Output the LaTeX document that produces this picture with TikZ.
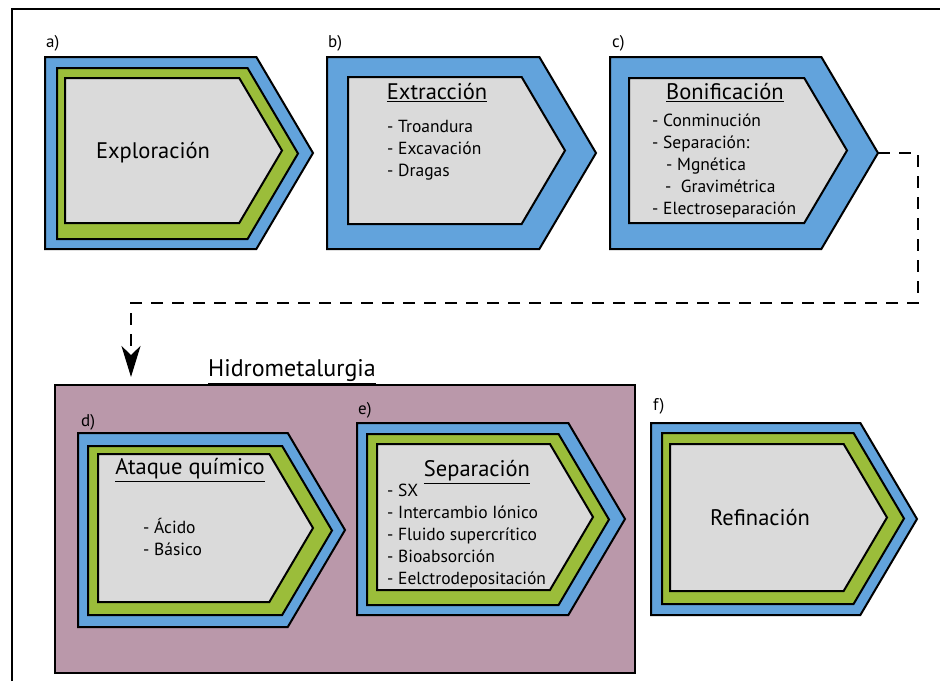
\documentclass[tikz,border=0pt]{standalone}
\usepackage{fontspec}
\setmainfont{PT Sans}
\usepackage{tikz}
\tikzset{>=latex}
\usetikzlibrary{shapes,arrows,arrows.meta}
\usetikzlibrary{calc}
\definecolor{capablue}{RGB}{98,163,220}
\definecolor{capagreen}{RGB}{155,189,58}
\definecolor{capagray}{RGB}{218,218,218}
\definecolor{hidromauve}{RGB}{186,152,170}
\tikzset{
	bluelayer/.style={fill=capablue,draw=black,line width=2pt},
	greenlayer/.style={fill=capagreen,draw=black,line width=2pt},
	graylayer/.style={fill=capagray,draw=black,line width=2pt},
	title/.style={font=\fontsize{22.5}{26}\selectfont,inner sep=0pt},
	itemlist/.style={font=\fontsize{17.5}{22}\selectfont,align=left,anchor=west,inner sep=0pt},
	tag/.style={font=\fontsize{17}{19}\selectfont,anchor=west,inner sep=0pt}
}
% style, left, top, bottom, tip
\newcommand{\chevron}[5]{%
	\draw[#1] (#2,#3) -- ({#5-0.59*(#4-#3)/2},#3) -- (#5,{(#3+#4)/2})
	-- ({#5-0.59*(#4-#3)/2},#4) -- (#2,#4) -- cycle;}

\begin{document}
\begin{tikzpicture}[line cap=butt,line join=miter,x=1pt,y=-1pt]
	\useasboundingbox (0,0) rectangle (940,681);
	\draw[line width=2pt] (12,681) |- (940,9);
	% top row
	\chevron{bluelayer}{45}{57}{249}{313}
	\chevron{greenlayer}{57}{68}{239}{298}
	\chevron{graylayer}{65}{78}{223}{282}
	\chevron{bluelayer}{327}{57}{249}{596}
	\chevron{graylayer}{348}{77}{224}{565}
	\chevron{bluelayer}{610}{57}{249}{878}
	\chevron{graylayer}{629}{78}{223}{847}
	\node[tag] (taga) at (46,43) {a)};
	\node[tag] (tagb) at (328,43) {b)};
	\node[tag] (tagc) at (612,43) {c)};
	\node[title] (explor) at (153,153) {Exploración};
	\node[title] (extrac) at (437,93) {\underline{Extracción}};
	\node[itemlist] (extraclist) at (387,150) {- Troandura\\- Excavación\\- Dragas};
	\node[title] (bonif) at (725,93) {\underline{Bonificación}};
	\node[itemlist] (boniflist) at (652,165.5) {- Conminución\\- Separación:\\\hspace*{14pt}- Mgnética\\\hspace*{13pt}-\ \ Gravimétrica\\- Electroseparación};
	% hidrometalurgia
	\draw[fill=hidromauve,line width=2pt] (55,385) rectangle (635,673);
	\node[title,font=\fontsize{24}{28}\selectfont] (hidro) at (292,372) {\underline{Hidrometalurgia}};
	\chevron{bluelayer}{78}{433}{627}{345}
	\chevron{greenlayer}{88}{446}{615}{332}
	\chevron{graylayer}{98}{454}{602}{313}
	\chevron{bluelayer}{357}{423}{615}{625}
	\chevron{greenlayer}{367}{434}{605}{609}
	\chevron{graylayer}{377}{444}{590}{593}
	\chevron{bluelayer}{651}{423}{615}{917}
	\chevron{greenlayer}{662}{433}{604}{904}
	\chevron{graylayer}{670}{444}{591}{887}
	\node[tag] (tagd) at (81,422) {d)};
	\node[tag] (tage) at (358,410) {e)};
	\node[tag] (tagf) at (653,406) {f)};
	\node[title] (ataque) at (190,470) {\underline{Ataque químico}};
	\node[itemlist] (ataquelist) at (143,537) {- Ácido\\- Básico};
	\node[title] (separ) at (477,472) {\underline{Separación}};
	\node[itemlist] (separlist) at (387,536.5) {- SX\\- Intercambio Iónico\\- Fluido supercrítico\\- Bioabsorción\\- Eelctrodepositación};
	\node[title] (refin) at (760,518) {Refinación};
	% connector
	\coordinate (ctip) at (878,153);
	\coordinate (dentry) at (131,377);
	\draw[line width=2.5pt,dash pattern=on 12pt off 9pt,-{Stealth[length=31pt,width=19pt,inset=9pt]}]
	(ctip) -- (918,153) -- (918,303) -- (131,303) -- (dentry);
\end{tikzpicture}
\end{document}
